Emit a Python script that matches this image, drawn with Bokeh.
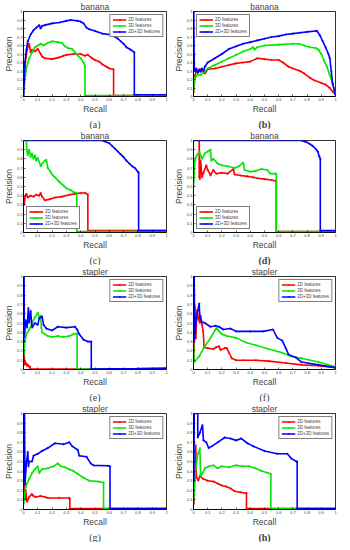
from bokeh.plotting import figure
from bokeh.layouts import gridplot
from bokeh.models import Range1d, FixedTicker, Title, Legend, LegendItem
from bokeh.embed import file_html
from bokeh.resources import INLINE

TICKS = [0, 0.1, 0.2, 0.3, 0.4, 0.5, 0.6, 0.7, 0.8, 0.9, 1]
TICK_LABELS = ["0", "0.1", "0.2", "0.3", "0.4", "0.5", "0.6", "0.7", "0.8", "0.9", "1"]
SERIES = ["2D features", "3D features", "2D+3D features"]
COLORS = ["#ff0000", "#00e600", "#0000ff"]

# ---- (a) banana
a2_r = [0, 0.01, 0.02, 0.03, 0.04, 0.05, 0.06, 0.08, 0.1, 0.12, 0.13, 0.15, 0.2, 0.25, 0.28, 0.3, 0.35, 0.4, 0.43, 0.45, 0.48, 0.5, 0.53, 0.55, 0.58, 0.6, 0.63, 0.63, 1.0]
a2_p = [0, 0.35, 0.5, 0.58, 0.62, 0.52, 0.55, 0.53, 0.56, 0.5, 0.47, 0.45, 0.44, 0.46, 0.48, 0.49, 0.5, 0.5, 0.48, 0.49, 0.45, 0.43, 0.41, 0.38, 0.35, 0.33, 0.32, 0.01, 0.01]
a3_r = [0, 0.01, 0.02, 0.04, 0.06, 0.08, 0.1, 0.12, 0.14, 0.17, 0.2, 0.24, 0.27, 0.29, 0.31, 0.34, 0.36, 0.38, 0.4, 0.42, 0.43, 0.43, 1.0]
a3_p = [0, 0.2, 0.33, 0.45, 0.52, 0.58, 0.6, 0.62, 0.6, 0.63, 0.65, 0.64, 0.63, 0.59, 0.57, 0.56, 0.52, 0.48, 0.45, 0.4, 0.36, 0.01, 0.01]
a23_r = [0, 0.005, 0.01, 0.02, 0.03, 0.05, 0.07, 0.09, 0.11, 0.12, 0.13, 0.15, 0.2, 0.25, 0.3, 0.33, 0.38, 0.4, 0.42, 0.44, 0.46, 0.5, 0.55, 0.6, 0.63, 0.66, 0.68, 0.7, 0.72, 0.75, 0.775, 0.775, 1.0]
a23_p = [0, 0.2, 0.4, 0.55, 0.65, 0.73, 0.78, 0.81, 0.84, 0.8, 0.83, 0.84, 0.86, 0.87, 0.89, 0.9, 0.89, 0.88, 0.86, 0.81, 0.79, 0.77, 0.74, 0.73, 0.71, 0.68, 0.65, 0.62, 0.58, 0.55, 0.52, 0.02, 0.02]

# ---- (b) banana
b2_r = [0, 0.005, 0.01, 0.02, 0.03, 0.05, 0.07, 0.08, 0.1, 0.15, 0.2, 0.25, 0.3, 0.35, 0.4, 0.45, 0.5, 0.55, 0.6, 0.63, 0.67, 0.7, 0.75, 0.78, 0.82, 0.85, 0.9, 0.93, 0.96, 0.98, 1.0]
b2_p = [0.05, 0.15, 0.25, 0.3, 0.28, 0.32, 0.3, 0.27, 0.32, 0.33, 0.35, 0.37, 0.39, 0.4, 0.41, 0.45, 0.44, 0.43, 0.43, 0.4, 0.35, 0.33, 0.3, 0.27, 0.22, 0.19, 0.16, 0.14, 0.1, 0.06, 0.02]
b3_r = [0, 0.005, 0.01, 0.03, 0.05, 0.07, 0.1, 0.15, 0.2, 0.25, 0.3, 0.35, 0.4, 0.42, 0.43, 0.45, 0.5, 0.6, 0.7, 0.74, 0.78, 0.82, 0.86, 0.88, 0.9, 0.92, 0.94, 0.96, 0.98, 1.0]
b3_p = [0.05, 0.15, 0.22, 0.26, 0.25, 0.28, 0.33, 0.37, 0.41, 0.45, 0.49, 0.53, 0.56, 0.58, 0.55, 0.58, 0.6, 0.61, 0.62, 0.62, 0.6, 0.58, 0.57, 0.55, 0.5, 0.42, 0.35, 0.25, 0.15, 0.03]
b23_r = [0, 0.002, 0.004, 0.006, 0.01, 0.02, 0.03, 0.04, 0.05, 0.06, 0.07, 0.08, 0.1, 0.15, 0.2, 0.25, 0.3, 0.35, 0.4, 0.45, 0.5, 0.55, 0.6, 0.65, 0.7, 0.75, 0.8, 0.86, 0.87, 0.89, 0.91, 0.93, 0.95, 0.96, 0.97, 0.98, 1.0]
b23_p = [0.3, 1.0, 0.5, 0.33, 0.3, 0.33, 0.28, 0.32, 0.29, 0.33, 0.3, 0.35, 0.4, 0.45, 0.5, 0.56, 0.59, 0.62, 0.64, 0.66, 0.68, 0.7, 0.71, 0.73, 0.74, 0.75, 0.76, 0.77, 0.77, 0.72, 0.65, 0.58, 0.5, 0.45, 0.3, 0.15, 0.02]

# ---- (c) banana
c2_r = [0.005, 0.01, 0.02, 0.03, 0.05, 0.07, 0.09, 0.11, 0.12, 0.13, 0.15, 0.18, 0.22, 0.27, 0.32, 0.36, 0.4, 0.43, 0.45, 0.45, 1.0]
c2_p = [0.3, 0.38, 0.42, 0.38, 0.4, 0.39, 0.41, 0.4, 0.43, 0.39, 0.35, 0.36, 0.38, 0.39, 0.41, 0.42, 0.43, 0.43, 0.41, 0.02, 0.02]
c3_r = [0.02, 0.025, 0.03, 0.04, 0.05, 0.06, 0.07, 0.08, 0.09, 0.1, 0.12, 0.13, 0.15, 0.16, 0.17, 0.19, 0.2, 0.22, 0.25, 0.28, 0.3, 0.33, 0.35, 0.37, 0.373, 0.373, 1.0]
c3_p = [1.0, 0.88, 0.84, 0.9, 0.82, 0.86, 0.8, 0.84, 0.78, 0.81, 0.72, 0.75, 0.78, 0.79, 0.7, 0.66, 0.63, 0.6, 0.55, 0.51, 0.48, 0.46, 0.44, 0.43, 0.43, 0.01, 0.01]
c23_r = [0, 0.55, 0.57, 0.6, 0.62, 0.64, 0.66, 0.68, 0.7, 0.72, 0.74, 0.76, 0.78, 0.8, 0.805, 0.805, 1.0]
c23_p = [1.0, 1.0, 0.99, 0.97, 0.94, 0.91, 0.88, 0.85, 0.82, 0.78, 0.75, 0.72, 0.7, 0.66, 0.65, 0.02, 0.02]

# ---- (d) banana
d2_r = [0.04, 0.04, 0.045, 0.05, 0.06, 0.07, 0.09, 0.1, 0.12, 0.14, 0.16, 0.2, 0.24, 0.28, 0.29, 0.33, 0.38, 0.42, 0.45, 0.5, 0.55, 0.58, 0.583, 0.583, 1.0]
d2_p = [0.6, 1.0, 0.58, 0.78, 0.6, 0.65, 0.73, 0.68, 0.62, 0.68, 0.64, 0.65, 0.64, 0.69, 0.63, 0.62, 0.61, 0.6, 0.59, 0.58, 0.57, 0.56, 0.55, 0.01, 0.01]
d3_r = [0.0, 0.005, 0.01, 0.02, 0.04, 0.05, 0.06, 0.08, 0.1, 0.12, 0.125, 0.14, 0.17, 0.2, 0.24, 0.29, 0.32, 0.35, 0.36, 0.4, 0.44, 0.48, 0.52, 0.54, 0.58, 0.583, 0.583, 1.0]
d3_p = [0.5, 0.65, 0.78, 0.83, 0.88, 0.84, 0.8, 0.86, 0.88, 0.9, 0.78, 0.8, 0.75, 0.73, 0.72, 0.7, 0.72, 0.76, 0.68, 0.66, 0.67, 0.69, 0.68, 0.64, 0.64, 0.63, 0.01, 0.01]
d23_r = [0, 0.76, 0.78, 0.8, 0.82, 0.84, 0.86, 0.875, 0.885, 0.893, 0.893, 1.0]
d23_p = [1.0, 1.0, 0.99, 0.98, 0.96, 0.94, 0.91, 0.88, 0.83, 0.8, 0.02, 0.02]

# ---- (e) stapler
e2_r = [0, 0.004, 0.008, 0.012, 0.02, 0.025, 0.03, 0.04, 0.046, 0.046, 1.0]
e2_p = [0.1, 0.25, 0.05, 0.08, 0.06, 0.04, 0.05, 0.03, 0.03, 0.005, 0.005]
e3_r = [0.002, 0.01, 0.02, 0.04, 0.06, 0.08, 0.1, 0.11, 0.12, 0.125, 0.13, 0.15, 0.17, 0.2, 0.24, 0.28, 0.32, 0.35, 0.375, 0.375, 1.0]
e3_p = [0.15, 0.3, 0.38, 0.43, 0.5, 0.56, 0.61, 0.56, 0.58, 0.45, 0.4, 0.38, 0.36, 0.35, 0.36, 0.35, 0.36, 0.38, 0.39, 0.005, 0.005]
e23_r = [0.002, 0.004, 0.006, 0.015, 0.025, 0.034, 0.04, 0.05, 0.06, 0.08, 0.1, 0.11, 0.13, 0.14, 0.16, 0.2, 0.24, 0.3, 0.36, 0.375, 0.39, 0.42, 0.45, 0.474, 0.474, 0.8, 1.0]
e23_p = [0.3, 1.0, 0.35, 0.53, 0.45, 0.66, 0.5, 0.63, 0.45, 0.5, 0.48, 0.55, 0.57, 0.48, 0.44, 0.42, 0.46, 0.45, 0.46, 0.43, 0.38, 0.32, 0.3, 0.3, 0.005, 0.01, 0.015]

# ---- (f) stapler
f2_r = [0.002, 0.01, 0.016, 0.025, 0.035, 0.045, 0.05, 0.06, 0.068, 0.075, 0.1, 0.14, 0.16, 0.18, 0.19, 0.22, 0.235, 0.25, 0.27, 0.3, 0.35, 0.44, 0.53, 0.65, 0.76, 0.88, 1.0]
f2_p = [0.1, 0.68, 0.33, 0.64, 0.54, 0.5, 0.58, 0.48, 0.41, 0.24, 0.23, 0.22, 0.24, 0.25, 0.21, 0.23, 0.23, 0.18, 0.12, 0.1, 0.1, 0.1, 0.09, 0.07, 0.05, 0.04, 0.02]
f3_r = [0.0, 0.005, 0.04, 0.075, 0.12, 0.155, 0.165, 0.18, 0.2, 0.235, 0.3, 0.37, 0.44, 0.53, 0.625, 0.69, 0.76, 0.88, 1.0]
f3_p = [0.3, 0.08, 0.14, 0.24, 0.34, 0.43, 0.45, 0.41, 0.38, 0.36, 0.34, 0.29, 0.26, 0.22, 0.18, 0.14, 0.12, 0.08, 0.03]
f23_r = [0.002, 0.005, 0.008, 0.02, 0.04, 0.045, 0.06, 0.08, 0.12, 0.155, 0.18, 0.21, 0.26, 0.3, 0.4, 0.49, 0.56, 0.59, 0.625, 0.65, 0.67, 0.72, 0.76, 0.88, 1.0]
f23_p = [0.3, 1.0, 0.33, 0.55, 0.71, 0.56, 0.51, 0.5, 0.46, 0.47, 0.46, 0.43, 0.44, 0.41, 0.41, 0.41, 0.43, 0.34, 0.31, 0.23, 0.16, 0.13, 0.08, 0.05, 0.02]

# ---- (g) stapler
g2_r = [0.002, 0.007, 0.01, 0.015, 0.025, 0.04, 0.058, 0.07, 0.085, 0.12, 0.15, 0.17, 0.25, 0.32, 0.324, 0.324, 1.0]
g2_p = [0.1, 0.29, 0.1, 0.2, 0.08, 0.13, 0.16, 0.14, 0.13, 0.14, 0.13, 0.12, 0.12, 0.12, 0.11, 0.01, 0.01]
g3_r = [0.002, 0.01, 0.02, 0.04, 0.06, 0.08, 0.1, 0.11, 0.13, 0.17, 0.21, 0.24, 0.26, 0.29, 0.32, 0.35, 0.38, 0.42, 0.46, 0.53, 0.56, 0.56, 1.0]
g3_p = [0.06, 0.19, 0.26, 0.32, 0.38, 0.42, 0.45, 0.38, 0.42, 0.43, 0.45, 0.48, 0.45, 0.44, 0.42, 0.4, 0.37, 0.33, 0.3, 0.29, 0.28, 0.01, 0.01]
g23_r = [0.004, 0.007, 0.01, 0.02, 0.03, 0.035, 0.04, 0.06, 0.07, 0.1, 0.13, 0.17, 0.22, 0.28, 0.32, 0.34, 0.38, 0.39, 0.44, 0.47, 0.49, 0.59, 0.605, 0.605, 1.0]
g23_p = [0.3, 1.0, 0.26, 0.48, 0.6, 0.45, 0.5, 0.5, 0.56, 0.58, 0.61, 0.64, 0.69, 0.68, 0.7, 0.66, 0.62, 0.56, 0.55, 0.48, 0.46, 0.455, 0.45, 0.01, 0.01]

# ---- (h) stapler
h2_r = [0.003, 0.008, 0.016, 0.02, 0.033, 0.045, 0.067, 0.1, 0.145, 0.17, 0.2, 0.23, 0.26, 0.29, 0.33, 0.37, 0.373, 0.373, 1.0]
h2_p = [0.06, 0.32, 0.67, 0.34, 0.3, 0.35, 0.32, 0.3, 0.29, 0.27, 0.25, 0.24, 0.22, 0.19, 0.18, 0.17, 0.17, 0.01, 0.01]
h3_r = [0.0, 0.01, 0.03, 0.04, 0.045, 0.05, 0.065, 0.08, 0.11, 0.14, 0.17, 0.2, 0.25, 0.3, 0.35, 0.39, 0.435, 0.48, 0.525, 0.545, 0.545, 1.0]
h3_p = [0.06, 0.35, 0.58, 0.6, 0.64, 0.35, 0.38, 0.43, 0.45, 0.46, 0.43, 0.45, 0.44, 0.46, 0.45, 0.45, 0.43, 0.4, 0.38, 0.37, 0.01, 0.01]
h23_r = [0.003, 0.005, 0.03, 0.03, 0.045, 0.063, 0.07, 0.09, 0.107, 0.13, 0.17, 0.22, 0.26, 0.3, 0.335, 0.38, 0.42, 0.5, 0.59, 0.66, 0.69, 0.725, 0.73, 0.73, 1.0]
h23_p = [0.3, 1.0, 1.0, 0.75, 0.8, 0.88, 0.72, 0.7, 0.64, 0.66, 0.7, 0.75, 0.74, 0.72, 0.74, 0.69, 0.66, 0.61, 0.58, 0.58, 0.53, 0.5, 0.5, 0.01, 0.01]

FONT = "Liberation Sans"


def panel(title, caption, bold, curves, legend_loc, width, height, left, right):
    p = figure(width=width, height=height, output_backend="svg", toolbar_location=None,
               x_range=Range1d(0, 1), y_range=Range1d(0, 1),
               min_border_left=left, min_border_right=right,
               min_border_top=0, min_border_bottom=0)
    p.title.text = title
    p.title.align = "center"
    p.title.text_font = FONT
    p.title.text_font_size = "8.5px"
    p.title.text_font_style = "normal"
    p.title.text_line_height = 1.0
    p.title.standoff = -1
    p.title.offset = 0
    p.outline_line_color = "black"
    p.outline_line_width = 0.8
    p.xgrid.visible = False
    p.ygrid.visible = False
    labels = dict(zip(TICKS, TICK_LABELS))
    for ax, lab in ((p.xaxis, "Recall"), (p.yaxis, "Precision")):
        ax.ticker = FixedTicker(ticks=TICKS)
        ax.major_label_overrides = labels
        ax.major_label_text_font_size = "4px"
        ax.major_label_text_line_height = 1.0
        ax.major_label_text_color = "#444444"
        ax.major_label_standoff = 1
        ax.major_tick_in = 2
        ax.major_tick_out = 0
        ax.minor_tick_line_color = None
        ax.axis_line_color = "black"
        ax.axis_line_width = 0.8
        ax.major_tick_line_width = 0.6
        ax.axis_label = lab
        ax.axis_label_text_font = FONT
        ax.axis_label_text_font_size = "8.5px"
        ax.axis_label_text_font_style = "normal"
        ax.axis_label_text_line_height = 1.0
        ax.axis_label_standoff = 0
    cap = Title(text=caption, align="center", text_font="Liberation Serif",
                text_font_size="10px", text_font_style="bold" if bold else "normal",
                text_line_height=1.0, standoff=0, offset=0)
    p.add_layout(cap, "below")
    items = []
    for (r, pr), name, col in zip(curves, SERIES, COLORS):
        ln = p.line(r, pr, line_color=col, line_width=1.6)
        sc = p.scatter(r, pr, marker="cross", size=2.5, line_color=col, line_width=0.6)
        items.append(LegendItem(label=name, renderers=[ln, sc]))
    leg = Legend(items=items, location=legend_loc, label_text_font=FONT,
                 label_text_font_size="4.5px", glyph_width=14, glyph_height=5,
                 label_height=5, spacing=1, padding=2, margin=3, label_standoff=2,
                 border_line_color="black", border_line_width=0.6,
                 background_fill_alpha=1.0)
    p.add_layout(leg, "center")
    return p


pa = panel("banana", "(a)", False, [(a2_r, a2_p), (a3_r, a3_p), (a23_r, a23_p)], "top_right", 170, 129, 16, 4)
pb = panel("banana", "(b)", True, [(b2_r, b2_p), (b3_r, b3_p), (b23_r, b23_p)], "top_left", 172, 129, 19, 5)
pc = panel("banana", "(c)", False, [(c2_r, c2_p), (c3_r, c3_p), (c23_r, c23_p)], "bottom_left", 170, 136, 20, 4)
pd = panel("banana", "(d)", True, [(d2_r, d2_p), (d3_r, d3_p), (d23_r, d23_p)], "bottom_left", 172, 136, 19, 7)
pe = panel("stapler", "(e)", False, [(e2_r, e2_p), (e3_r, e3_p), (e23_r, e23_p)], "top_right", 170, 137, 16, 4)
pf = panel("stapler", "(f)", False, [(f2_r, f2_p), (f3_r, f3_p), (f23_r, f23_p)], "top_right", 172, 137, 19, 3)
pg = panel("stapler", "(g)", False, [(g2_r, g2_p), (g3_r, g3_p), (g23_r, g23_p)], "top_right", 170, 140, 13, 4)
ph = panel("stapler", "(h)", True, [(h2_r, h2_p), (h3_r, h3_p), (h23_r, h23_p)], "top_right", 172, 140, 18, 2)

grid = gridplot([[pa, pb], [pc, pd], [pe, pf], [pg, ph]], toolbar_location=None)

open("out.html", "w").write(file_html(grid, INLINE))
